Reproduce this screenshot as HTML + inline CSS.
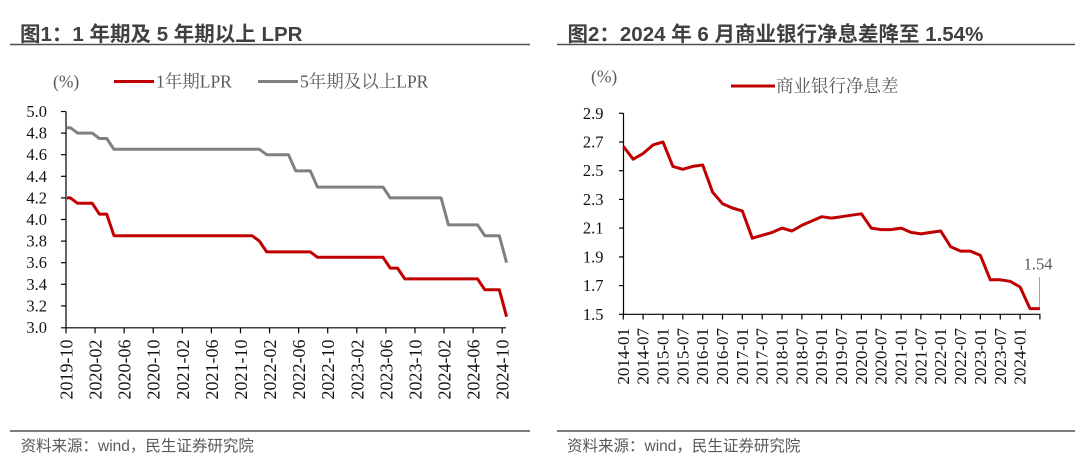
<!DOCTYPE html>
<html>
<head>
<meta charset="utf-8">
<style>
  html,body{margin:0;padding:0;background:#fff;}
  svg{display:block;}
  .title{font-family:"Liberation Sans","Noto Sans CJK SC",sans-serif;font-weight:bold;font-size:20.5px;fill:#404040;}
  .src{font-family:"Liberation Sans","Noto Sans CJK SC",sans-serif;font-size:15.5px;fill:#595959;}
  .tick{font-family:"Liberation Serif","Noto Serif CJK SC",serif;font-size:16.5px;fill:#111;}
  .xl{font-family:"Liberation Serif","Noto Serif CJK SC",serif;font-size:17px;fill:#111;}
  .xl18{font-family:"Liberation Serif","Noto Serif CJK SC",serif;font-size:18px;fill:#111;}
  .leg{font-family:"Liberation Serif","Noto Serif CJK SC",serif;font-size:17.5px;fill:#595959;}
</style>
</head>
<body>
<svg width="1080" height="474" viewBox="0 0 1080 474" xmlns="http://www.w3.org/2000/svg">
  <rect width="1080" height="474" fill="#fff"/>

  <!-- ============ LEFT CHART ============ -->
  <text class="title" x="20" y="41">图1：1 年期及 5 年期以上 LPR</text>
  <line x1="10" y1="44.5" x2="530" y2="44.5" stroke="#505050" stroke-width="1.6"/>

  <!-- legend -->
  <text class="leg" x="53" y="87.5" font-size="16">(%)</text>
  <line x1="114" y1="81.5" x2="154" y2="81.5" stroke="#C00000" stroke-width="3"/>
  <text class="leg" x="156" y="87.5">1年期LPR</text>
  <line x1="258" y1="81.5" x2="298" y2="81.5" stroke="#808080" stroke-width="3"/>
  <text class="leg" x="300" y="87.5">5年期及以上LPR</text>

  <!-- axes -->
  <g stroke="#000" stroke-width="1.2" fill="none">
    <line x1="66" y1="111.5" x2="66" y2="327.8"/>
    <line x1="61" y1="327.8" x2="506" y2="327.8"/>
    <!-- y ticks -->
    <line x1="61" y1="111.5" x2="66" y2="111.5"/>
    <line x1="61" y1="133.1" x2="66" y2="133.1"/>
    <line x1="61" y1="154.7" x2="66" y2="154.7"/>
    <line x1="61" y1="176.3" x2="66" y2="176.3"/>
    <line x1="61" y1="197.9" x2="66" y2="197.9"/>
    <line x1="61" y1="219.5" x2="66" y2="219.5"/>
    <line x1="61" y1="241.1" x2="66" y2="241.1"/>
    <line x1="61" y1="262.7" x2="66" y2="262.7"/>
    <line x1="61" y1="284.3" x2="66" y2="284.3"/>
    <line x1="61" y1="305.9" x2="66" y2="305.9"/>
    <!-- x ticks -->
    <line x1="66" y1="327.8" x2="66" y2="333.3"/>
    <line x1="95.08" y1="327.8" x2="95.08" y2="333.3"/>
    <line x1="124.16" y1="327.8" x2="124.16" y2="333.3"/>
    <line x1="153.24" y1="327.8" x2="153.24" y2="333.3"/>
    <line x1="182.32" y1="327.8" x2="182.32" y2="333.3"/>
    <line x1="211.4" y1="327.8" x2="211.4" y2="333.3"/>
    <line x1="240.48" y1="327.8" x2="240.48" y2="333.3"/>
    <line x1="269.56" y1="327.8" x2="269.56" y2="333.3"/>
    <line x1="298.64" y1="327.8" x2="298.64" y2="333.3"/>
    <line x1="327.72" y1="327.8" x2="327.72" y2="333.3"/>
    <line x1="356.8" y1="327.8" x2="356.8" y2="333.3"/>
    <line x1="385.88" y1="327.8" x2="385.88" y2="333.3"/>
    <line x1="414.96" y1="327.8" x2="414.96" y2="333.3"/>
    <line x1="444.04" y1="327.8" x2="444.04" y2="333.3"/>
    <line x1="473.12" y1="327.8" x2="473.12" y2="333.3"/>
    <line x1="502.2" y1="327.8" x2="502.2" y2="333.3"/>
  </g>

  <!-- y labels -->
  <g class="tick" text-anchor="end" dominant-baseline="central">
    <text x="47" y="111.5">5.0</text>
    <text x="47" y="133.1">4.8</text>
    <text x="47" y="154.7">4.6</text>
    <text x="47" y="176.3">4.4</text>
    <text x="47" y="197.9">4.2</text>
    <text x="47" y="219.5">4.0</text>
    <text x="47" y="241.1">3.8</text>
    <text x="47" y="262.7">3.6</text>
    <text x="47" y="284.3">3.4</text>
    <text x="47" y="305.9">3.2</text>
    <text x="47" y="327.5">3.0</text>
  </g>

  <!-- x labels -->
  <g class="xl18" text-anchor="end" dominant-baseline="central">
    <text transform="translate(66.5,339.5) rotate(-90)">2019-10</text>
    <text transform="translate(95.58,339.5) rotate(-90)">2020-02</text>
    <text transform="translate(124.66,339.5) rotate(-90)">2020-06</text>
    <text transform="translate(153.74,339.5) rotate(-90)">2020-10</text>
    <text transform="translate(182.82,339.5) rotate(-90)">2021-02</text>
    <text transform="translate(211.9,339.5) rotate(-90)">2021-06</text>
    <text transform="translate(240.98,339.5) rotate(-90)">2021-10</text>
    <text transform="translate(270.06,339.5) rotate(-90)">2022-02</text>
    <text transform="translate(299.14,339.5) rotate(-90)">2022-06</text>
    <text transform="translate(328.22,339.5) rotate(-90)">2022-10</text>
    <text transform="translate(357.3,339.5) rotate(-90)">2023-02</text>
    <text transform="translate(386.38,339.5) rotate(-90)">2023-06</text>
    <text transform="translate(415.46,339.5) rotate(-90)">2023-10</text>
    <text transform="translate(444.54,339.5) rotate(-90)">2024-02</text>
    <text transform="translate(473.62,339.5) rotate(-90)">2024-06</text>
    <text transform="translate(502.7,339.5) rotate(-90)">2024-10</text>
  </g>

  <!-- series -->
  <polyline fill="none" stroke="#808080" stroke-width="3" stroke-linejoin="round"
    points="67,127.7 70.4,127.7 77.6,133.1 92.2,133.1 99.4,138.5 106.7,138.5 114.0,149.3 259.4,149.3 266.7,154.7 288.5,154.7 295.7,170.9 310.3,170.9 317.5,187.1 383.0,187.1 390.2,197.9 441.1,197.9 448.4,224.9 477.5,224.9 484.8,235.7 499.3,235.7 506.6,262.7"/>
  <polyline fill="none" stroke="#C00000" stroke-width="3" stroke-linejoin="round"
    points="67,197.9 70.4,197.9 77.6,203.3 92.2,203.3 99.4,214.1 106.7,214.1 114.0,235.7 252.1,235.7 259.4,241.1 266.7,251.9 310.3,251.9 317.5,257.3 383.0,257.3 390.2,268.1 397.5,268.1 404.8,278.9 477.5,278.9 484.8,289.7 499.3,289.7 506.6,316.7"/>

  <line x1="10" y1="431" x2="530" y2="431" stroke="#505050" stroke-width="1.6"/>
  <text class="src" x="20.5" y="451">资料来源：wind，民生证券研究院</text>

  <!-- ============ RIGHT CHART ============ -->
  <text class="title" x="567.5" y="41">图2：2024 年 6 月商业银行净息差降至 1.54%</text>
  <line x1="557" y1="44.5" x2="1075" y2="44.5" stroke="#505050" stroke-width="1.6"/>

  <text class="leg" x="591" y="82.5" font-size="16">(%)</text>
  <line x1="731" y1="86" x2="775" y2="86" stroke="#C00000" stroke-width="3"/>
  <text class="leg" x="776" y="92" font-size="18.3">商业银行净息差</text>

  <g stroke="#000" stroke-width="1.2" fill="none">
    <line x1="623.5" y1="113.3" x2="623.5" y2="314.3"/>
    <line x1="619" y1="314.3" x2="1040.5" y2="314.3"/>
    <line x1="619" y1="113.3" x2="623.5" y2="113.3"/>
    <line x1="619" y1="142.0" x2="623.5" y2="142.0"/>
    <line x1="619" y1="170.7" x2="623.5" y2="170.7"/>
    <line x1="619" y1="199.4" x2="623.5" y2="199.4"/>
    <line x1="619" y1="228.1" x2="623.5" y2="228.1"/>
    <line x1="619" y1="256.9" x2="623.5" y2="256.9"/>
    <line x1="619" y1="285.6" x2="623.5" y2="285.6"/>
    <line x1="623.3" y1="314.3" x2="623.3" y2="319.5"/>
    <line x1="643.1" y1="314.3" x2="643.1" y2="319.5"/>
    <line x1="663.0" y1="314.3" x2="663.0" y2="319.5"/>
    <line x1="682.8" y1="314.3" x2="682.8" y2="319.5"/>
    <line x1="702.7" y1="314.3" x2="702.7" y2="319.5"/>
    <line x1="722.5" y1="314.3" x2="722.5" y2="319.5"/>
    <line x1="742.3" y1="314.3" x2="742.3" y2="319.5"/>
    <line x1="762.2" y1="314.3" x2="762.2" y2="319.5"/>
    <line x1="782.0" y1="314.3" x2="782.0" y2="319.5"/>
    <line x1="801.9" y1="314.3" x2="801.9" y2="319.5"/>
    <line x1="821.7" y1="314.3" x2="821.7" y2="319.5"/>
    <line x1="841.5" y1="314.3" x2="841.5" y2="319.5"/>
    <line x1="861.4" y1="314.3" x2="861.4" y2="319.5"/>
    <line x1="881.2" y1="314.3" x2="881.2" y2="319.5"/>
    <line x1="901.1" y1="314.3" x2="901.1" y2="319.5"/>
    <line x1="920.9" y1="314.3" x2="920.9" y2="319.5"/>
    <line x1="940.7" y1="314.3" x2="940.7" y2="319.5"/>
    <line x1="960.6" y1="314.3" x2="960.6" y2="319.5"/>
    <line x1="980.4" y1="314.3" x2="980.4" y2="319.5"/>
    <line x1="1000.3" y1="314.3" x2="1000.3" y2="319.5"/>
    <line x1="1020.1" y1="314.3" x2="1020.1" y2="319.5"/>
    <line x1="1039.9" y1="314.3" x2="1039.9" y2="319.5"/>
  </g>

  <g class="tick" text-anchor="end" dominant-baseline="central">
    <text x="603.5" y="113.3">2.9</text>
    <text x="603.5" y="142.0">2.7</text>
    <text x="603.5" y="170.7">2.5</text>
    <text x="603.5" y="199.4">2.3</text>
    <text x="603.5" y="228.1">2.1</text>
    <text x="603.5" y="256.9">1.9</text>
    <text x="603.5" y="285.6">1.7</text>
    <text x="603.5" y="314.3">1.5</text>
  </g>

  <g class="xl" text-anchor="end" dominant-baseline="central">
    <text transform="translate(623.3,328) rotate(-90)">2014-01</text>
    <text transform="translate(643.1,328) rotate(-90)">2014-07</text>
    <text transform="translate(663.0,328) rotate(-90)">2015-01</text>
    <text transform="translate(682.8,328) rotate(-90)">2015-07</text>
    <text transform="translate(702.7,328) rotate(-90)">2016-01</text>
    <text transform="translate(722.5,328) rotate(-90)">2016-07</text>
    <text transform="translate(742.3,328) rotate(-90)">2017-01</text>
    <text transform="translate(762.2,328) rotate(-90)">2017-07</text>
    <text transform="translate(782.0,328) rotate(-90)">2018-01</text>
    <text transform="translate(801.9,328) rotate(-90)">2018-07</text>
    <text transform="translate(821.7,328) rotate(-90)">2019-01</text>
    <text transform="translate(841.5,328) rotate(-90)">2019-07</text>
    <text transform="translate(861.4,328) rotate(-90)">2020-01</text>
    <text transform="translate(881.2,328) rotate(-90)">2020-07</text>
    <text transform="translate(901.1,328) rotate(-90)">2021-01</text>
    <text transform="translate(920.9,328) rotate(-90)">2021-07</text>
    <text transform="translate(940.7,328) rotate(-90)">2022-01</text>
    <text transform="translate(960.6,328) rotate(-90)">2022-07</text>
    <text transform="translate(980.4,328) rotate(-90)">2023-01</text>
    <text transform="translate(1000.3,328) rotate(-90)">2023-07</text>
    <text transform="translate(1020.1,328) rotate(-90)">2024-01</text>
  </g>

  <!-- data label leader -->
  <line x1="1039.5" y1="277" x2="1039.5" y2="307" stroke="#a6a6a6" stroke-width="1"/>
  <text class="tick" x="1038" y="269.5" text-anchor="middle" style="fill:#595959" font-size="17">1.54</text>

  <polyline fill="none" stroke="#C00000" stroke-width="3" stroke-linejoin="round"
    points="623.3,146.3 633.2,159.2 643.1,153.5 653.1,144.9 663.0,142.0 672.9,166.4 682.8,169.3 692.7,166.4 702.7,165.0 712.6,192.2 722.5,203.7 732.4,208.0 742.3,210.9 752.3,238.2 762.2,235.3 772.1,232.4 782.0,228.1 791.9,231.0 801.9,225.3 811.8,221.0 821.7,216.7 831.6,218.1 841.5,216.7 851.5,215.2 861.4,213.8 871.3,228.1 881.2,229.6 891.1,229.6 901.1,228.1 911.0,232.4 920.9,233.9 930.8,232.4 940.7,231.0 950.7,246.8 960.6,251.1 970.5,251.1 980.4,255.4 990.3,279.8 1000.3,279.8 1010.2,281.3 1020.1,287.0 1030.0,308.6 1039.9,308.6"/>

  <line x1="557" y1="431" x2="1075" y2="431" stroke="#505050" stroke-width="1.6"/>
  <text class="src" x="567" y="451">资料来源：wind，民生证券研究院</text>
</svg>
</body>
</html>
